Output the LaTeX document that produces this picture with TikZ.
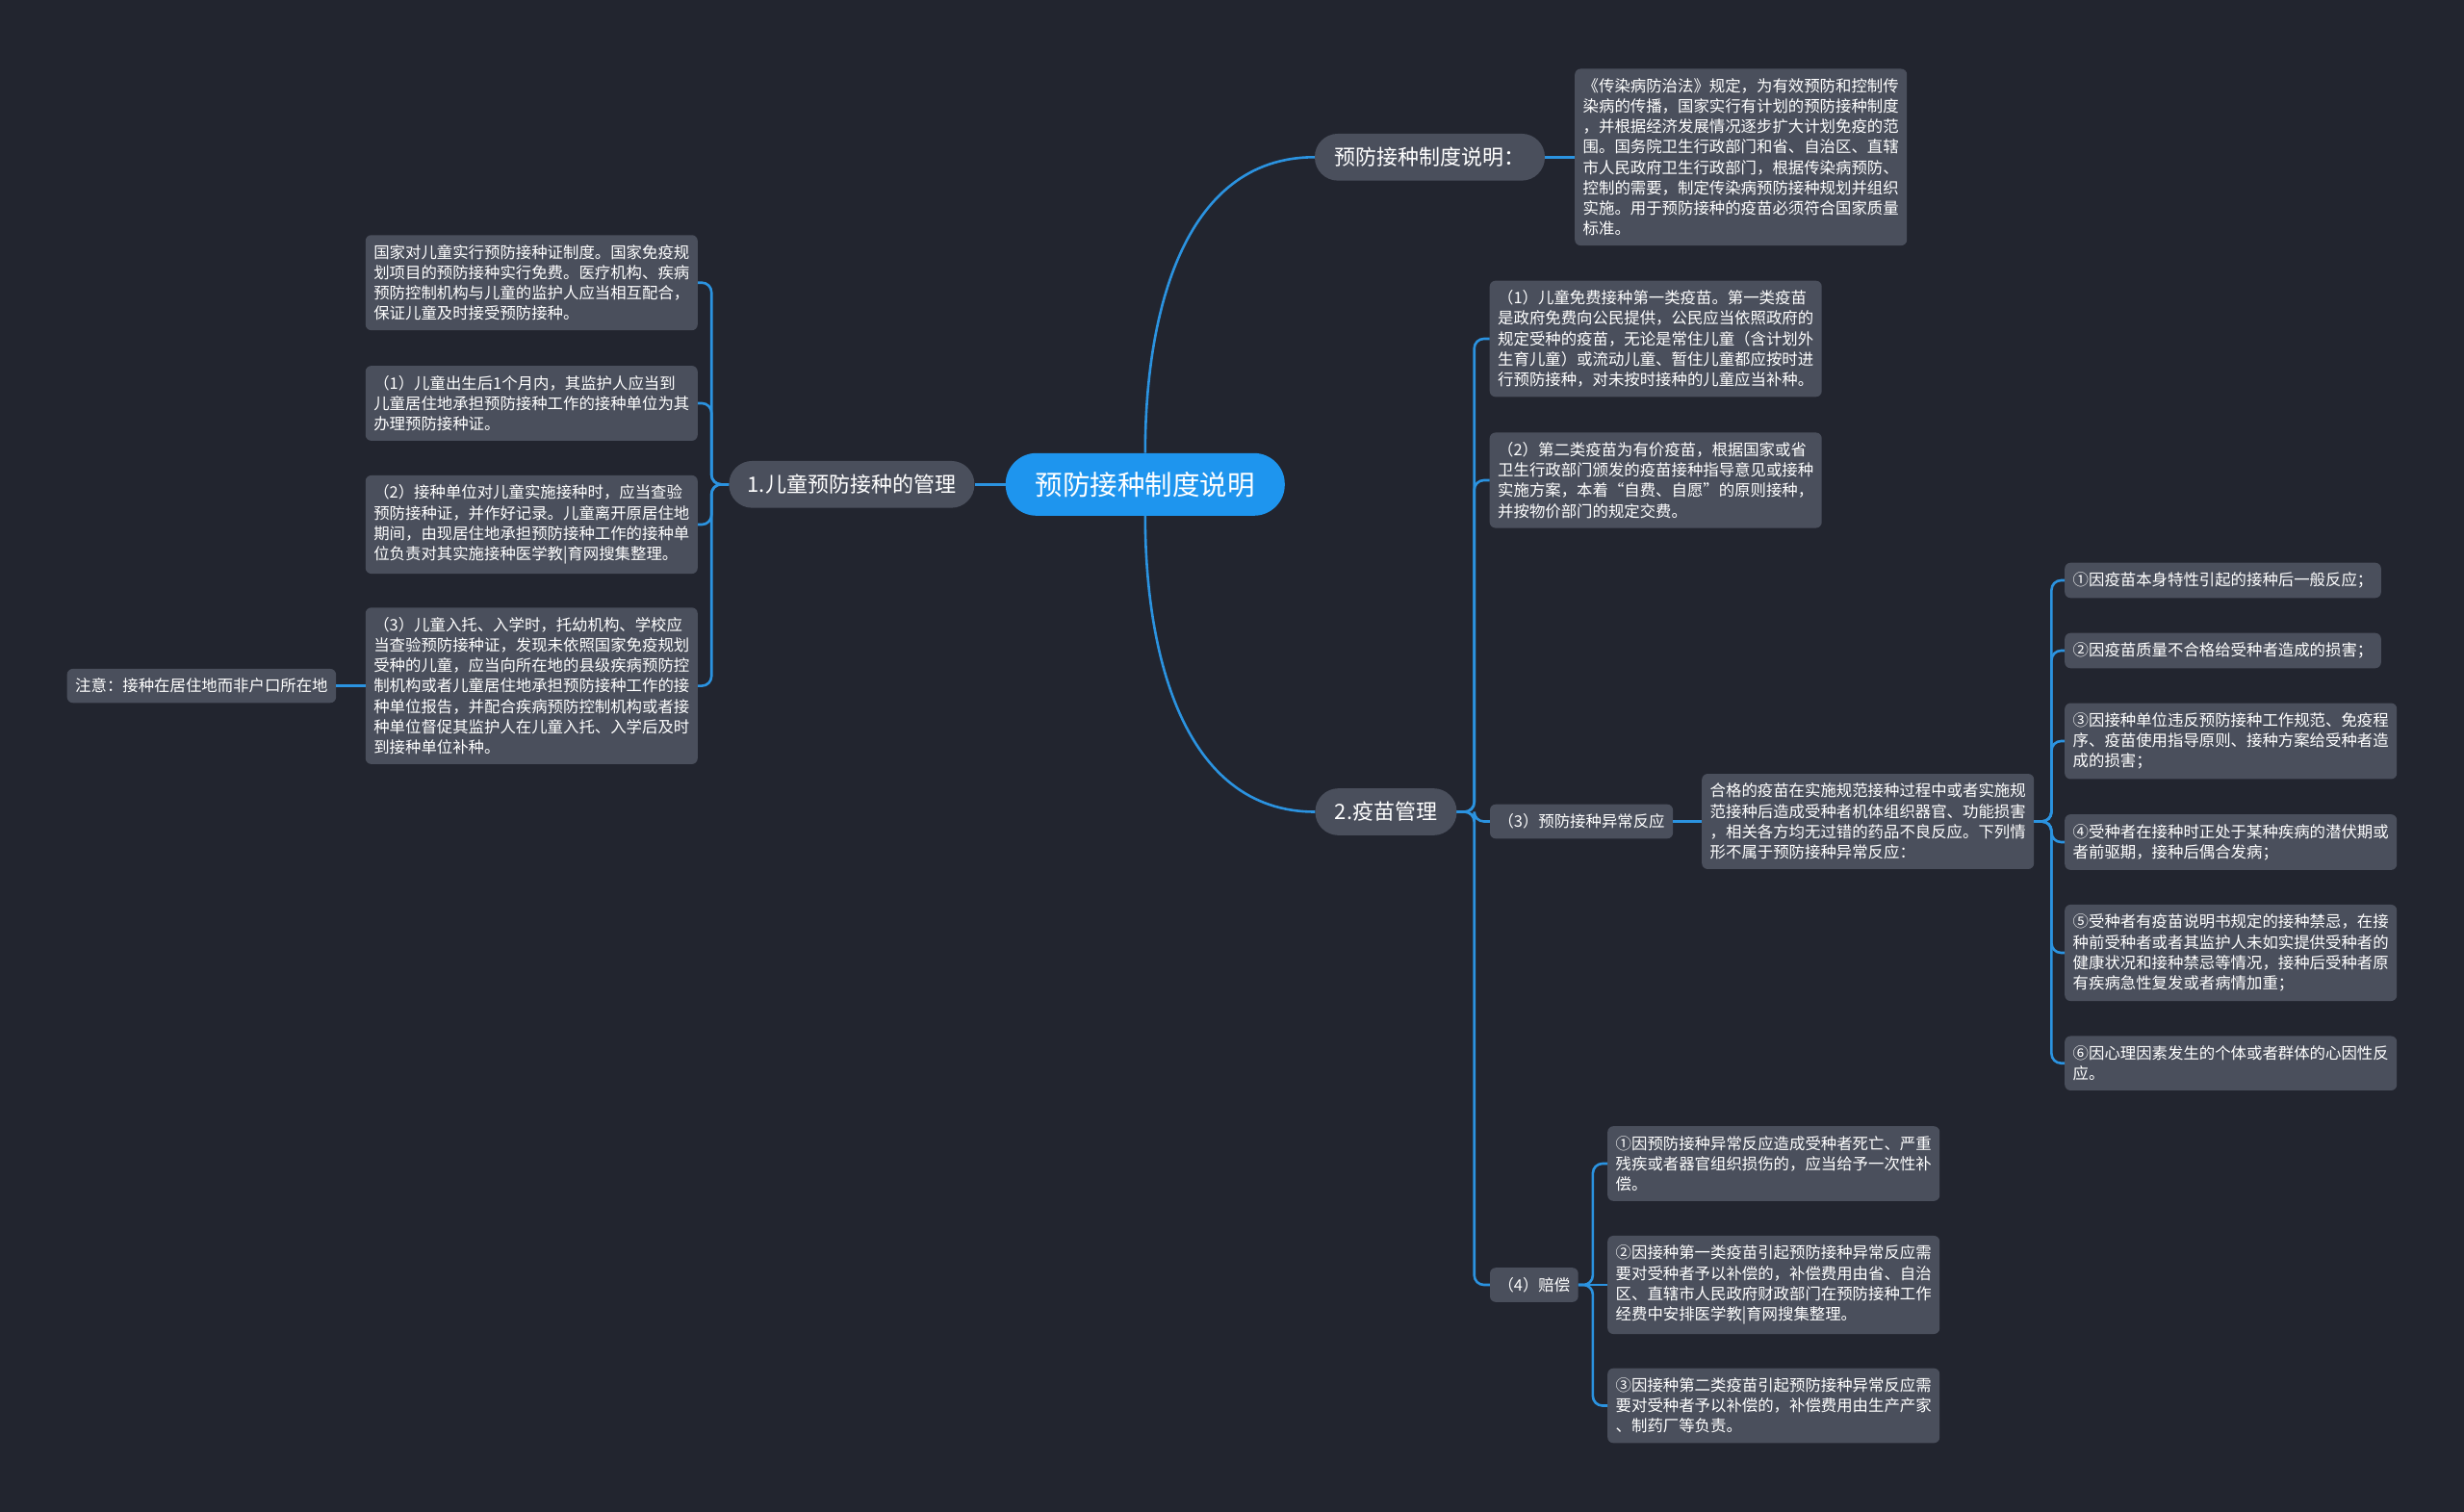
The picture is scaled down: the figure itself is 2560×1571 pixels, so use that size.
\documentclass[tikz,border=0pt]{standalone}
\usepackage{fontspec}
\setmainfont{Noto Sans CJK SC}
\definecolor{bgc}{HTML}{22252F}
\definecolor{boxc}{HTML}{4A4F5C}
\definecolor{rootc}{HTML}{1E95EE}
\definecolor{linec}{HTML}{2B93E0}
\tikzset{
  leaf/.style={fill=boxc, rounded corners=6pt, inner xsep=8.5pt, inner ysep=10pt, align=left, text=white, font=\fontsize{16.4}{21.2}\selectfont},
  branch/.style={fill=boxc, rounded corners=24pt, minimum height=48.7pt, inner sep=0pt, text=white, font=\fontsize{22}{26}\selectfont},
  rootnode/.style={fill=rootc, rounded corners=32pt, minimum width=290pt, minimum height=65pt, inner sep=0pt, text=white, font=\fontsize{28.5}{32}\selectfont},
  conn/.style={draw=linec, line width=2.6pt, rounded corners=10pt},
}
\begin{document}
\begin{tikzpicture}[x=1pt,y=-1pt]
\fill[bgc] (0,0) rectangle (2560,1571);
\useasboundingbox (0,0) rectangle (2560,1571);

% root and branches
\node[rootnode] (root) at (1189.8,503.3) {预防接种制度说明};
\node[branch, minimum width=255pt] (b1) at (884.9,503.3) {1.儿童预防接种的管理};
\node[branch, minimum width=239pt] (top) at (1485.5,163.3) {预防接种制度说明：};
\node[branch, minimum width=147pt] (b2) at (1440,843.5) {2.疫苗管理};

% top text
\node[leaf, anchor=west] (T0) at (1636,163.3) {《传染病防治法》规定，为有效预防和控制传\\染病的传播，国家实行有计划的预防接种制度\\，并根据经济发展情况逐步扩大计划免疫的范\\围。国务院卫生行政部门和省、自治区、直辖\\市人民政府卫生行政部门，根据传染病预防、\\控制的需要，制定传染病预防接种规划并组织\\实施。用于预防接种的疫苗必须符合国家质量\\标准。};

% left side
\node[leaf, anchor=east] (L0) at (725,293.7) {国家对儿童实行预防接种证制度。国家免疫规\\划项目的预防接种实行免费。医疗机构、疾病\\预防控制机构与儿童的监护人应当相互配合，\\保证儿童及时接受预防接种。};
\node[leaf, anchor=east] (L1) at (725,419) {（1）儿童出生后1个月内，其监护人应当到\\儿童居住地承担预防接种工作的接种单位为其\\办理预防接种证。};
\node[leaf, anchor=east] (L2) at (725,545) {（2）接种单位对儿童实施接种时，应当查验\\预防接种证，并作好记录。儿童离开原居住地\\期间，由现居住地承担预防接种工作的接种单\\位负责对其实施接种医学教|育网搜集整理。};
\node[leaf, anchor=east] (L3) at (725,712.6) {（3）儿童入托、入学时，托幼机构、学校应\\当查验预防接种证，发现未依照国家免疫规划\\受种的儿童，应当向所在地的县级疾病预防控\\制机构或者儿童居住地承担预防接种工作的接\\种单位报告，并配合疾病预防控制机构或者接\\种单位督促其监护人在儿童入托、入学后及时\\到接种单位补种。};
\node[leaf, anchor=east] (note) at (349.3,712.6) {注意：接种在居住地而非户口所在地};

% right side: vaccine management
\node[leaf, anchor=west] (C1) at (1547.5,352) {（1）儿童免费接种第一类疫苗。第一类疫苗\\是政府免费向公民提供，公民应当依照政府的\\规定受种的疫苗，无论是常住儿童（含计划外\\生育儿童）或流动儿童、暂住儿童都应按时进\\行预防接种，对未按时接种的儿童应当补种。};
\node[leaf, anchor=west] (C2) at (1547.5,499) {（2）第二类疫苗为有价疫苗，根据国家或省\\卫生行政部门颁发的疫苗接种指导意见或接种\\实施方案，本着“自费、自愿”的原则接种，\\并按物价部门的规定交费。};
\node[leaf, anchor=west] (C3) at (1547.8,853.5) {（3）预防接种异常反应};
\node[leaf, anchor=west] (C4) at (1547.8,1335) {（4）赔偿};

\node[leaf, anchor=west] (D) at (1768,853.5) {合格的疫苗在实施规范接种过程中或者实施规\\范接种后造成受种者机体组织器官、功能损害\\，相关各方均无过错的药品不良反应。下列情\\形不属于预防接种异常反应：};

\node[leaf, anchor=west] (E1) at (2145,603) {①因疫苗本身特性引起的接种后一般反应；};
\node[leaf, anchor=west] (E2) at (2145,676) {②因疫苗质量不合格给受种者造成的损害；};
\node[leaf, anchor=west] (E3) at (2145,770) {③因接种单位违反预防接种工作规范、免疫程\\序、疫苗使用指导原则、接种方案给受种者造\\成的损害；};
\node[leaf, anchor=west] (E4) at (2145,875) {④受种者在接种时正处于某种疾病的潜伏期或\\者前驱期，接种后偶合发病；};
\node[leaf, anchor=west] (E5) at (2145,990) {⑤受种者有疫苗说明书规定的接种禁忌，在接\\种前受种者或者其监护人未如实提供受种者的\\健康状况和接种禁忌等情况，接种后受种者原\\有疾病急性复发或者病情加重；};
\node[leaf, anchor=west] (E6) at (2145,1104.7) {⑥因心理因素发生的个体或者群体的心因性反\\应。};

\node[leaf, anchor=west] (F1) at (1670,1209) {①因预防接种异常反应造成受种者死亡、严重\\残疾或者器官组织损伤的，应当给予一次性补\\偿。};
\node[leaf, anchor=west] (F2) at (1670,1335) {②因接种第一类疫苗引起预防接种异常反应需\\要对受种者予以补偿的，补偿费用由省、自治\\区、直辖市人民政府财政部门在预防接种工作\\经费中安排医学教|育网搜集整理。};
\node[leaf, anchor=west] (F3) at (1670,1460.5) {③因接种第二类疫苗引起预防接种异常反应需\\要对受种者予以补偿的，补偿费用由生产产家\\、制药厂等负责。};

% connectors
\draw[conn] (root.west) -- (b1.east);
\draw[conn] (root.north) .. controls +(0,-139) and +(-139,0) .. (top.west);
\draw[conn] (root.south) .. controls +(0,139) and +(-139,0) .. (b2.west);
\draw[conn] (top.east) -- (T0.west);
\foreach \n in {L0,L1,L2,L3} \draw[conn] (b1.west) -- ++(-18,0) |- (\n.east);
\draw[conn] (L3.west) -- (note.east);
\foreach \n in {C1,C2,C3,C4} \draw[conn] (b2.east) -- ++(18,0) |- (\n.west);
\draw[conn] (C3.east) -- (D.west);
\foreach \n in {E1,E2,E3,E4,E5,E6} \draw[conn] (D.east) -- ++(18,0) |- (\n.west);
\foreach \n in {F1,F3} \draw[conn] (C4.east) -- ++(15,0) |- (\n.west);
\draw[conn] (C4.east) -- (F2.west);
\end{tikzpicture}
\end{document}
